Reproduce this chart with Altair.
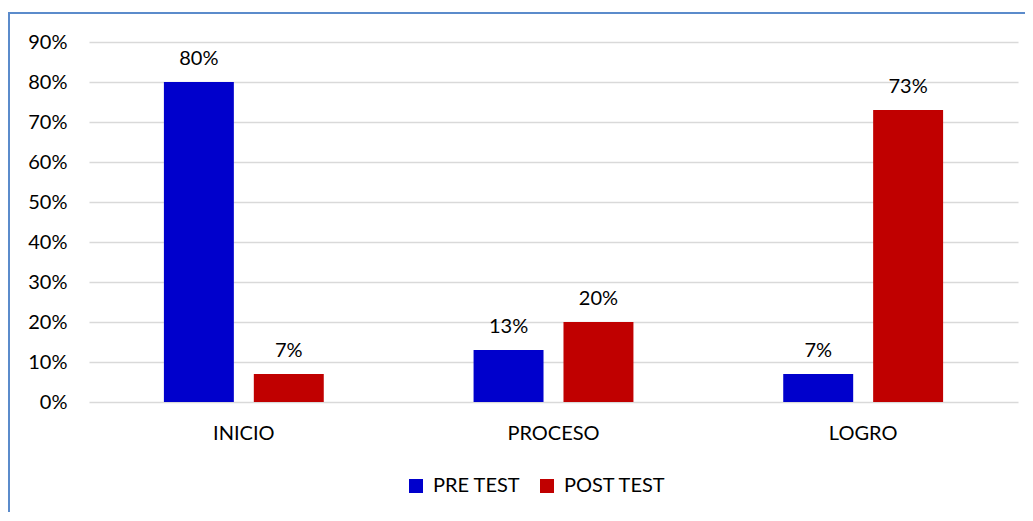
import altair as alt
import pandas as pd

categories = ["INICIO", "PROCESO", "LOGRO"]
series = ["PRE TEST", "POST TEST"]
pre_test = [0.80, 0.13, 0.07]
post_test = [0.07, 0.20, 0.73]
y_ticks = [0, 0.1, 0.2, 0.3, 0.4, 0.5, 0.6, 0.7, 0.8, 0.9]
colors = ["#0000CC", "#C00000"]

rows = []
for c, a, b in zip(categories, pre_test, post_test):
    rows.append({"cat": c, "serie": series[0], "val": a})
    rows.append({"cat": c, "serie": series[1], "val": b})
df = pd.DataFrame(rows)

FONT = "Lato"
FS = 20

x = alt.X("cat:N", sort=categories, title=None,
          scale=alt.Scale(paddingInner=0, paddingOuter=0),
          axis=alt.Axis(labelAngle=0, labelFont=FONT, labelFontSize=FS, labelColor="#000000",
                        labelPadding=21, ticks=False, domain=False, grid=False))
xoff = alt.XOffset("serie:N", sort=series,
                   scale=alt.Scale(paddingInner=0.222, paddingOuter=0.833))
y = alt.Y("val:Q", title=None,
          scale=alt.Scale(domain=[0, 0.9], nice=False),
          axis=alt.Axis(values=y_ticks, format=".0%", labelFont=FONT, labelFontSize=FS,
                        labelColor="#000000", labelPadding=22, ticks=False, domain=False,
                        labelOverlap=False, labelFlush=False, tickCount=10,
                        grid=True, gridColor="#D9D9D9", gridWidth=1.3))
color = alt.Color("serie:N", sort=series,
                  scale=alt.Scale(domain=series, range=colors),
                  legend=alt.Legend(title=None, orient="none", direction="horizontal",
                                    legendX=317, legendY=434, symbolType="square",
                                    symbolSize=196, symbolStrokeWidth=0, labelFont=FONT,
                                    labelFontSize=FS, labelColor="#000000", labelOffset=7,
                                    columnPadding=16))

base = alt.Chart(df)
bars = base.mark_bar().encode(x=x, xOffset=xoff, y=y, color=color)
labels = base.mark_text(font=FONT, fontSize=FS, color="#000000", baseline="alphabetic",
                        dy=-17).encode(
    x=alt.X("cat:N", sort=categories), xOffset=alt.XOffset("serie:N", sort=series),
    y="val:Q", text=alt.Text("val:Q", format=".0%"))

one = pd.DataFrame({"k": [0]})
top_border = alt.Chart(one).mark_rule(color="#5B8BCB", strokeWidth=2).encode(
    x=alt.value(-81), x2=alt.value(960), y=alt.value(-29))
left_border = alt.Chart(one).mark_rule(color="#5B8BCB", strokeWidth=2).encode(
    x=alt.value(-80), y=alt.value(-29), y2=alt.value(500))

chart = alt.layer(bars, labels, top_border, left_border).properties(
    width=929, height=360,
    autosize=alt.AutoSizeParams(type="none"),
    padding={"left": 81, "top": 34, "right": 7, "bottom": 110},
).configure_view(stroke=None)

chart.save("out.html", embed_options={"renderer": "svg", "actions": False})
